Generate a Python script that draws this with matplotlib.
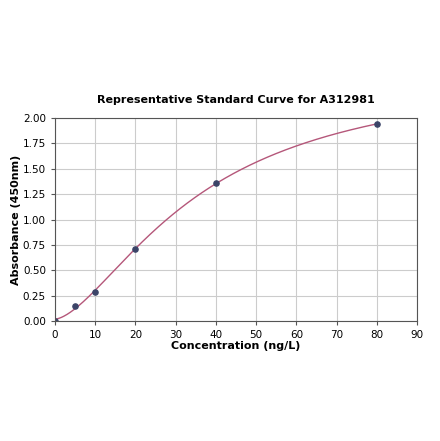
import numpy as np
import matplotlib
matplotlib.use("Agg")
import matplotlib.pyplot as plt

conc = [0, 5, 10, 20, 40, 80]
absorb = [0.005, 0.15, 0.29, 0.71, 1.36, 1.94]
title = "Representative Standard Curve for A312981"
xlabel = "Concentration (ng/L)"
ylabel = "Absorbance (450nm)"

x = np.array(conc, float)
y = np.array(absorb, float)

def f(p, xx):
    a, b, c, d = p
    return d + (a - d) / (1 + (np.maximum(xx, 1e-12) / c) ** b)

p = np.array([0.0, 1.5, 40.0, 3.0])
lam = 1e-2
for _ in range(2000):
    r = y - f(p, x)
    J = np.zeros((len(x), 4))
    for i in range(4):
        dp = np.zeros(4); dp[i] = 1e-6 * max(1, abs(p[i]))
        J[:, i] = (f(p + dp, x) - f(p - dp, x)) / (2 * dp[i])
    A = J.T @ J
    g = J.T @ r
    step = np.linalg.solve(A + lam * np.diag(np.diag(A) + 1e-9), g)
    pn = p + step
    if pn[2] > 0 and pn[1] > 0 and np.sum((y - f(pn, x)) ** 2) < np.sum(r ** 2):
        p = pn; lam *= 0.5
    else:
        lam *= 3

fig = plt.figure(figsize=(4.4, 4.41), dpi=100)
ax = fig.add_axes([0.125, 0.272, 0.823, 0.4604])
xs = np.linspace(0, 80, 400)
ax.plot(xs, f(p, xs), color="#b5577a", lw=1.0, zorder=2)
ax.scatter(x, y, s=14, color="#3b4468", zorder=3)
ax.set_xlim(0, 90)
ax.set_ylim(0, 2.0)
ax.set_xticks(np.arange(0, 91, 10))
ax.set_yticks(np.arange(0, 2.01, 0.25))
ax.set_yticklabels([f"{v:.2f}" for v in np.arange(0, 2.01, 0.25)])
ax.grid(True, color="#cccccc", lw=0.8)
ax.set_axisbelow(True)
for s in ax.spines.values():
    s.set_color("#555555")
    s.set_zorder(4)
ax.tick_params(labelsize=7.5, length=3, color="#555555")
ax.set_xlabel(xlabel, fontsize=8, fontweight="bold", labelpad=1)
ax.set_ylabel(ylabel, fontsize=8, fontweight="bold", labelpad=1)
ax.set_title(title, fontsize=8, fontweight="bold", pad=11)
fig.savefig("out.png", dpi=100)
